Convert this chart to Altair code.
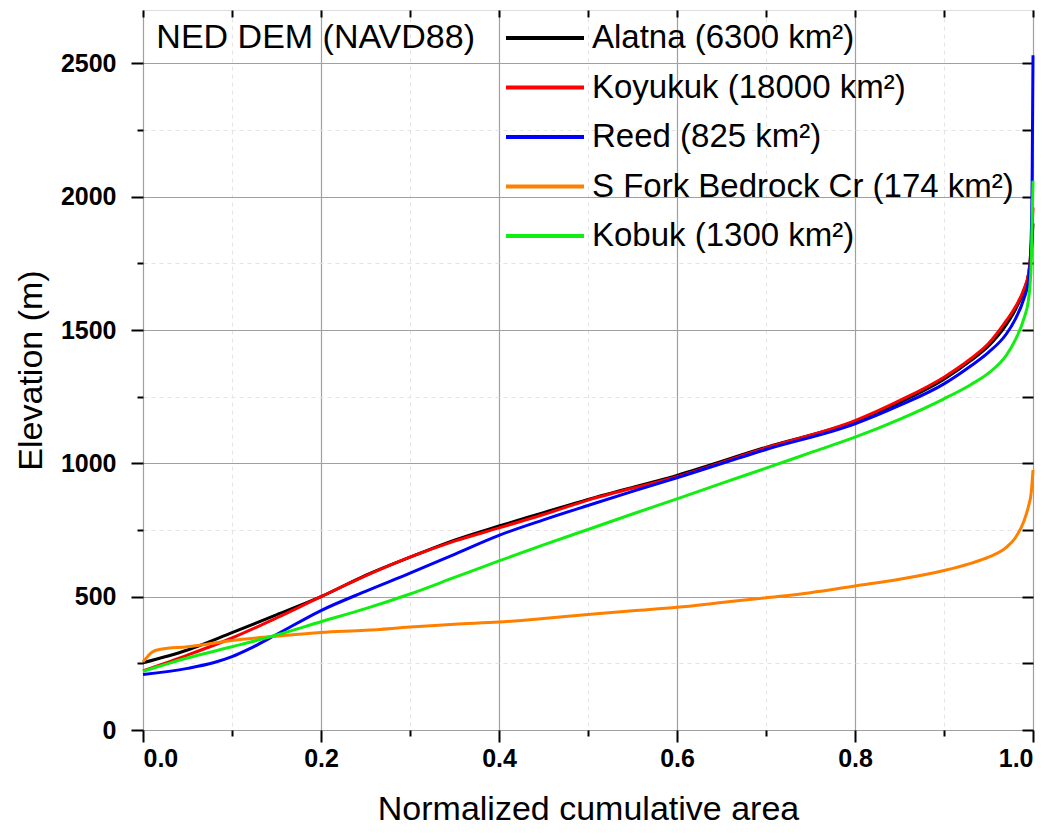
import altair as alt
import pandas as pd

# ---- data ----
series_names = [
    "Alatna (6300 km²)",
    "Koyukuk (18000 km²)",
    "Reed (825 km²)",
    "S Fork Bedrock Cr (174 km²)",
    "Kobuk (1300 km²)",
]
series_colors = ["#000000", "#ff0000", "#0000ff", "#ff8000", "#11ee11"]

alatna_x = [0, 0.05, 0.1, 0.15, 0.2, 0.25, 0.3, 0.35, 0.4, 0.45, 0.5, 0.6, 0.7, 0.8, 0.85, 0.9, 0.93, 0.95, 0.97, 0.98, 0.99, 0.995, 0.998, 1.0]
alatna_y = [252, 300, 365, 432, 500, 580, 648, 712, 765, 815, 865, 955, 1060, 1157, 1228, 1315, 1385, 1440, 1520, 1575, 1650, 1710, 1790, 1900]

koyukuk_x = [0, 0.05, 0.1, 0.15, 0.2, 0.25, 0.3, 0.35, 0.4, 0.45, 0.5, 0.6, 0.7, 0.8, 0.85, 0.9, 0.93, 0.95, 0.97, 0.98, 0.99, 0.995, 0.998, 1.0]
koyukuk_y = [222, 281, 345, 420, 500, 578, 648, 708, 758, 808, 862, 950, 1058, 1160, 1235, 1323, 1392, 1449, 1535, 1585, 1655, 1711, 1820, 1960]

reed_x = [0, 0.05, 0.08, 0.1, 0.12, 0.15, 0.2, 0.25, 0.3, 0.35, 0.4, 0.45, 0.5, 0.55, 0.6, 0.7, 0.8, 0.85, 0.9, 0.93, 0.95, 0.97, 0.98, 0.99, 0.995, 0.998, 0.999, 1.0]
reed_y = [208, 231, 253, 275, 305, 358, 448, 520, 588, 659, 730, 788, 842, 895, 946, 1052, 1148, 1217, 1298, 1365, 1416, 1485, 1540, 1620, 1685, 1850, 2050, 2530]

sfork_x = [0, 0.005, 0.01, 0.02, 0.05, 0.1, 0.15, 0.2, 0.25, 0.3, 0.35, 0.4, 0.45, 0.5, 0.55, 0.6, 0.65, 0.7, 0.75, 0.8, 0.85, 0.9, 0.93, 0.95, 0.97, 0.98, 0.99, 0.995, 0.998, 1.0]
sfork_y = [256, 275, 292, 303, 312, 336, 352, 366, 374, 386, 397, 405, 418, 433, 447, 460, 478, 496, 515, 540, 565, 598, 625, 648, 685, 720, 785, 840, 890, 975]

kobuk_x = [0, 0.05, 0.1, 0.15, 0.2, 0.25, 0.3, 0.35, 0.4, 0.45, 0.5, 0.55, 0.6, 0.65, 0.7, 0.75, 0.8, 0.85, 0.9, 0.93, 0.95, 0.97, 0.98, 0.99, 0.995, 0.998, 1.0]
kobuk_y = [220, 270, 312, 356, 406, 455, 510, 572, 634, 694, 752, 810, 867, 925, 982, 1040, 1098, 1165, 1242, 1295, 1338, 1405, 1462, 1545, 1615, 1750, 2060]

x_major = [0.0, 0.2, 0.4, 0.6, 0.8, 1.0]
x_minor = [0.1, 0.3, 0.5, 0.7, 0.9]
x_all = [0.0, 0.1, 0.2, 0.3, 0.4, 0.5, 0.6, 0.7, 0.8, 0.9, 1.0]
y_major = [0, 500, 1000, 1500, 2000, 2500]
y_minor = [250, 750, 1250, 1750, 2250]
y_all = [0, 250, 500, 750, 1000, 1250, 1500, 1750, 2000, 2250, 2500]

annotation = "NED DEM (NAVD88)"

# ---- build table ----
rows = []
for name, xs, ys in zip(series_names,
                        [alatna_x, koyukuk_x, reed_x, sfork_x, kobuk_x],
                        [alatna_y, koyukuk_y, reed_y, sfork_y, kobuk_y]):
    for i, (xv, yv) in enumerate(zip(xs, ys)):
        rows.append({"series": name, "x": xv, "y": yv, "i": i})
df = pd.DataFrame(rows)

FONT = "Liberation Sans"
xscale = alt.Scale(domain=[0, 1], nice=False, zero=False)
yscale = alt.Scale(domain=[0, 2700], nice=False, zero=False)

base = alt.Chart(df)

# minor grid + minor outward ticks on bottom/left
minor = base.mark_line(opacity=0).encode(
    x=alt.X("x:Q", scale=xscale, axis=alt.Axis(
        orient="bottom", values=x_minor, labels=False, domain=False, title=None,
        tickSize=6, tickWidth=2, tickColor="#000000",
        grid=True, gridColor="#e4e4e4", gridDash=[4, 4], gridWidth=1)),
    y=alt.Y("y:Q", scale=yscale, axis=alt.Axis(
        orient="left", values=y_minor, labels=False, domain=False, title=None,
        tickSize=6, tickWidth=2, tickColor="#000000",
        grid=True, gridColor="#e4e4e4", gridDash=[4, 4], gridWidth=1)),
    detail="series:N",
)

# inward ticks on top and right
inner = base.mark_line(opacity=0).encode(
    x=alt.X("x:Q", scale=xscale, axis=alt.Axis(
        orient="top", values=x_all, labels=False, domain=False, title=None,
        offset=-7, tickSize=7, tickWidth=2, tickColor="#000000", grid=False)),
    y=alt.Y("y:Q", scale=yscale, axis=alt.Axis(
        orient="right", values=y_all, labels=False, domain=False, title=None,
        offset=-11, tickSize=11, tickWidth=2, tickColor="#000000", grid=False)),
    detail="series:N",
)

lines = base.mark_line(strokeWidth=3, interpolate="monotone").encode(
    x=alt.X("x:Q", scale=xscale, axis=alt.Axis(
        orient="bottom", values=x_major, format=".1f",
        title="Normalized cumulative area",
        labelFont=FONT, labelFontSize=25, labelFontWeight="bold", labelColor="#000000",
        labelPadding=4, tickSize=12, tickWidth=2, tickColor="#000000", domain=False,
        grid=True, gridColor="#a0a0a0", gridWidth=1.2,
        titleFont=FONT, titleFontSize=34, titleFontWeight="normal", titleColor="#000000",
        titlePadding=21)),
    y=alt.Y("y:Q", scale=yscale, axis=alt.Axis(
        orient="left", values=y_major, format="d",
        title="Elevation (m)",
        labelFont=FONT, labelFontSize=25, labelFontWeight="bold", labelColor="#000000",
        labelPadding=15, tickSize=12, tickWidth=2, tickColor="#000000", domain=False,
        grid=True, gridColor="#a0a0a0", gridWidth=1.2,
        titleFont=FONT, titleFontSize=34, titleFontWeight="normal", titleColor="#000000",
        titlePadding=12)),
    color=alt.Color("series:N", sort=series_names,
                    scale=alt.Scale(domain=series_names, range=series_colors),
                    legend=alt.Legend(
                        orient="none", legendX=361, legendY=12, title=None,
                        symbolType="stroke", symbolSize=6084, symbolStrokeWidth=4,
                        clipHeight=32, rowPadding=16.5, padding=0, labelOffset=6,
                        labelFont=FONT, labelFontSize=33, labelColor="#000000",
                        labelLimit=700)),
    order=alt.Order("i:Q"),
)

label_df = pd.DataFrame({"x": [0.015], "y": [2595], "t": [annotation]})
note = alt.Chart(label_df).mark_text(
    align="left", baseline="middle", font=FONT, fontSize=34, color="#000000"
).encode(
    x=alt.X("x:Q", scale=xscale, axis=None),
    y=alt.Y("y:Q", scale=yscale, axis=None),
    text="t:N",
)

chart = alt.layer(minor, inner, lines, note).resolve_axis(
    x="independent", y="independent"
).properties(
    width=890, height=720,
    autosize=alt.AutoSizeParams(type="none"),
    padding={"left": 135, "top": 2, "right": 14, "bottom": 96},
).configure_view(
    stroke="#000000", strokeWidth=2.5
).configure(background="#ffffff")

chart.save("out.html", embed_options={"renderer": "svg", "actions": False})
